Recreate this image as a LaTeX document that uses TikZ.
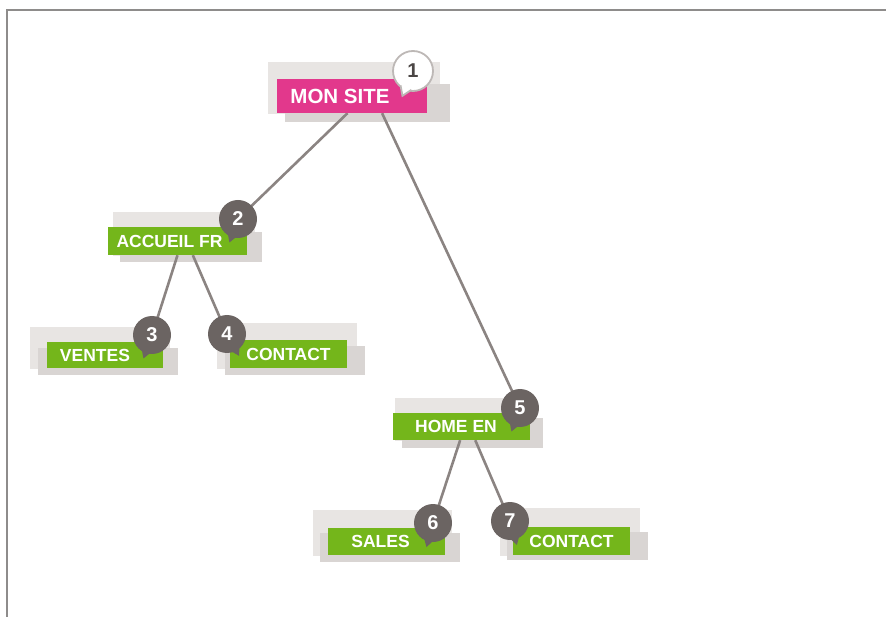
\documentclass[tikz,border=0pt]{standalone}
\usepackage{fontspec}
\setmainfont{Liberation Sans}
\usetikzlibrary{calc}
\pgfdeclarelayer{shadowlayer}
\pgfdeclarelayer{linelayer}
\pgfsetlayers{shadowlayer,linelayer,main}
\definecolor{sitepink}{HTML}{E2388C}
\definecolor{pagegreen}{HTML}{74B61B}
\definecolor{shadowlight}{HTML}{E8E5E3}
\definecolor{shadowdark}{HTML}{D9D5D3}
\definecolor{edgegrey}{HTML}{8B8482}
\definecolor{bubgrey}{HTML}{6B6462}
\definecolor{bubline}{HTML}{BDB8B6}
\definecolor{framegrey}{HTML}{8E8C8B}
\begin{document}
\begin{tikzpicture}[x=1pt,y=-1pt,
  framestyle/.style={draw=framegrey, line width=2pt},
  pagebox/.style={rectangle, fill=pagegreen, text=white, inner sep=0pt,
    font=\fontsize{17.5}{17.5}\selectfont\bfseries},
  rootbox/.style={rectangle, fill=sitepink, text=white, inner sep=0pt,
    font=\fontsize{20.5}{20.5}\selectfont\bfseries},
  bubdark/.style={circle, fill=bubgrey, text=white, inner sep=0pt, minimum size=38pt,
    font=\fontsize{20}{20}\selectfont\bfseries},
  bublight/.style={circle, fill=white, draw=bubline, line width=1.8pt, text=bubgrey!70!black,
    inner sep=0pt, minimum size=40pt, font=\fontsize{20}{20}\selectfont\bfseries},
  edge/.style={draw=edgegrey, line width=2.6pt},
  shback/.style={fill=shadowlight},
  shfront/.style={fill=shadowdark}
]
\useasboundingbox (0,0) rectangle (886,617);
\draw[framestyle] (7,617) -- (7,10.5) -- (886,10.5);

% boxes (trailing kern shifts the label left by half its width)
\node[rootbox, minimum width=150pt, minimum height=34pt] (mon) at (352,96) {MON SITE\kern24pt};
\node[pagebox, minimum width=139pt, minimum height=28pt] (accueil) at (177.5,241) {ACCUEIL FR\kern16pt};
\node[pagebox, minimum width=116pt, minimum height=26pt] (ventes) at (105,355) {VENTES\kern20pt};
\node[pagebox, minimum width=117pt, minimum height=28pt] (contactfr) at (288.5,354) {CONTACT};
\node[pagebox, minimum width=137pt, minimum height=27pt] (home) at (461.5,426.5) {HOME EN\kern11pt};
\node[pagebox, minimum width=117pt, minimum height=27pt] (sales) at (386.5,541.5) {SALES\kern12pt};
\node[pagebox, minimum width=117pt, minimum height=28pt] (contacten) at (571.5,541) {CONTACT};

% shadows
\begin{pgfonlayer}{shadowlayer}
  \fill[shback] (268,62) rectangle (440,114);
  \fill[shfront] (285,84) rectangle (450,122);
  \fill[shback] (113,212) rectangle (255,256);
  \fill[shfront] (120,232) rectangle (262,262);
  \fill[shback] (30,327) rectangle (170,369);
  \fill[shfront] (38,348) rectangle (178,375);
  \fill[shback] (217,323) rectangle (357,369);
  \fill[shfront] (225,346) rectangle (365,375);
  \fill[shback] (395,398) rectangle (536,441);
  \fill[shfront] (402,418) rectangle (543,448);
  \fill[shback] (313,510) rectangle (452,556);
  \fill[shfront] (320,533) rectangle (460,562);
  \fill[shback] (500,508) rectangle (640,556);
  \fill[shfront] (507,532) rectangle (648,560);
\end{pgfonlayer}

% bubbles
\node[bublight] (b1) at (413,71) {1};
\path[draw=bubline, fill=white, line width=1.8pt]
  ($(b1.center)+(229:19pt)$) -- ($(b1.center)+(247:27pt)$) -- ($(b1.center)+(265:19pt)$);
\node[bubdark] (b2) at (238,219) {2};
\fill[bubgrey] ($(b2.center)+(232:17pt)$) -- ($(b2.center)+(250:25pt)$) -- ($(b2.center)+(268:17pt)$) -- cycle;
\node[bubdark] (b3) at (152,335) {3};
\fill[bubgrey] ($(b3.center)+(232:17pt)$) -- ($(b3.center)+(250:25pt)$) -- ($(b3.center)+(268:17pt)$) -- cycle;
\node[bubdark] (b4) at (227,334) {4};
\fill[bubgrey] ($(b4.center)+(281:17pt)$) -- ($(b4.center)+(299:25pt)$) -- ($(b4.center)+(317:17pt)$) -- cycle;
\node[bubdark] (b5) at (520,408) {5};
\fill[bubgrey] ($(b5.center)+(232:17pt)$) -- ($(b5.center)+(250:25pt)$) -- ($(b5.center)+(268:17pt)$) -- cycle;
\node[bubdark] (b6) at (433,523) {6};
\fill[bubgrey] ($(b6.center)+(237:17pt)$) -- ($(b6.center)+(255:25pt)$) -- ($(b6.center)+(273:17pt)$) -- cycle;
\node[bubdark] (b7) at (510,521) {7};
\fill[bubgrey] ($(b7.center)+(268:17pt)$) -- ($(b7.center)+(286:25pt)$) -- ($(b7.center)+(304:17pt)$) -- cycle;

% connectors
\begin{pgfonlayer}{linelayer}
  \draw[edge] ($(mon.south west)!0.47!(mon.south east)$) -- (b2.center);
  \draw[edge] ($(mon.south west)!0.70!(mon.south east)$) -- (b5.center);
  \draw[edge] ($(accueil.south west)!0.50!(accueil.south east)$) -- (b3.center);
  \draw[edge] ($(accueil.south west)!0.61!(accueil.south east)$) -- (b4.center);
  \draw[edge] ($(home.south west)!0.49!(home.south east)$) -- (b6.center);
  \draw[edge] ($(home.south west)!0.60!(home.south east)$) -- (b7.center);
\end{pgfonlayer}
\end{tikzpicture}
\end{document}
